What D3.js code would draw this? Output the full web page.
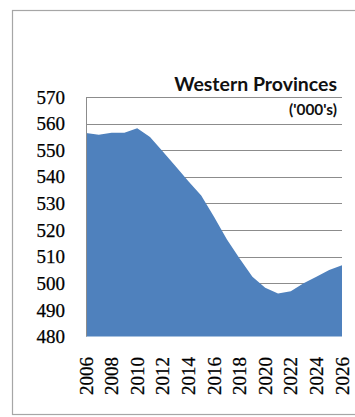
<!DOCTYPE html>
<html>
<head>
<meta charset="utf-8">
<script src="https://cdn.jsdelivr.net/npm/d3@7"></script>
<style>
  html, body { margin: 0; padding: 0; background: #fff; }
  svg { display: block; }
</style>
</head>
<body>
<svg id="chart" width="355" height="417"></svg>
<script>
// values in thousands
const years = [2006, 2007, 2008, 2009, 2010, 2011, 2012, 2013, 2014, 2015, 2016,
  2017, 2018, 2019, 2020, 2021, 2022, 2023, 2024, 2025, 2026];
const population = [556.5, 555.8, 556.6, 556.6, 558.3, 555, 549.5, 544, 538.3, 533, 525,
  516.5, 509.3, 502.5, 498.3, 496.2, 497, 500, 502.5, 505, 506.8];
const yTicks = [480, 490, 500, 510, 520, 530, 540, 550, 560, 570];
const xTickYears = [2006, 2008, 2010, 2012, 2014, 2016, 2018, 2020, 2022, 2024, 2026];
const title = 'Western Provinces';
const unitLabel = "('000's)";

const svg = d3.select('#chart');
const plotLeft = 86, plotRight = 342, plotTop = 97, plotBottom = 336.5;

const x = d3.scaleLinear().domain([2006, 2026]).range([plotLeft, plotRight]);
const y = d3.scaleLinear().domain([480, 570]).range([plotBottom, plotTop]);

// outer chart frame
svg.append('rect')
  .attr('x', 12.5).attr('y', 10.5)
  .attr('width', 360).attr('height', 404)
  .attr('fill', 'none')
  .attr('stroke', '#a6a6a6')
  .attr('stroke-width', 1.2);

// gridlines
svg.append('g')
  .selectAll('line')
  .data(yTicks.slice(1))
  .join('line')
  .attr('x1', plotLeft).attr('x2', plotRight)
  .attr('y1', d => Math.round(y(d)) + 0.5)
  .attr('y2', d => Math.round(y(d)) + 0.5)
  .attr('stroke', '#8c8c8c')
  .attr('stroke-width', 1);

// area
const area = d3.area()
  .x((d, i) => x(years[i]))
  .y0(y(480))
  .y1(d => y(d));

svg.append('path')
  .datum(population)
  .attr('d', area)
  .attr('fill', '#4f81bd');

// y axis line
svg.append('line')
  .attr('x1', plotLeft + 0.5).attr('x2', plotLeft + 0.5)
  .attr('y1', plotTop).attr('y2', plotBottom)
  .attr('stroke', '#8c8c8c');

const serif = '"Liberation Serif", "Times New Roman", serif';

// y labels
svg.append('g')
  .selectAll('text')
  .data(yTicks)
  .join('text')
  .attr('x', 65)
  .attr('y', d => y(d))
  .attr('dy', '0.35em')
  .attr('text-anchor', 'end')
  .attr('font-family', serif)
  .attr('font-size', 19)
  .attr('fill', '#000')
  .attr('stroke', '#000')
  .attr('stroke-width', 0.25)
  .text(d => d);

// x labels, rotated
svg.append('g')
  .selectAll('text')
  .data(xTickYears)
  .join('text')
  .attr('transform', d => `translate(${x(d)},357) rotate(-90)`)
  .attr('dy', '0.35em')
  .attr('text-anchor', 'end')
  .attr('font-family', serif)
  .attr('font-size', 19)
  .attr('fill', '#000')
  .attr('stroke', '#000')
  .attr('stroke-width', 0.25)
  .text(d => d);

// title
const t = svg.append('text')
  .attr('x', 337).attr('y', 90.5)
  .attr('text-anchor', 'end')
  .attr('font-family', 'Lato, "Open Sans", sans-serif')
  .attr('font-weight', 'bold')
  .attr('font-size', 17)
  .attr('fill', '#111')
  .text(title);
const tw = t.node().getComputedTextLength();
t.attr('font-size', 17 * 163 / tw);

const u = svg.append('text')
  .attr('x', 337).attr('y', 115)
  .attr('text-anchor', 'end')
  .attr('font-family', 'Lato, "Open Sans", sans-serif')
  .attr('font-weight', 'bold')
  .attr('font-size', 12)
  .attr('fill', '#111')
  .text(unitLabel);
const uw = u.node().getComputedTextLength();
u.attr('font-size', 12 * 48 / uw);
</script>
</body>
</html>
